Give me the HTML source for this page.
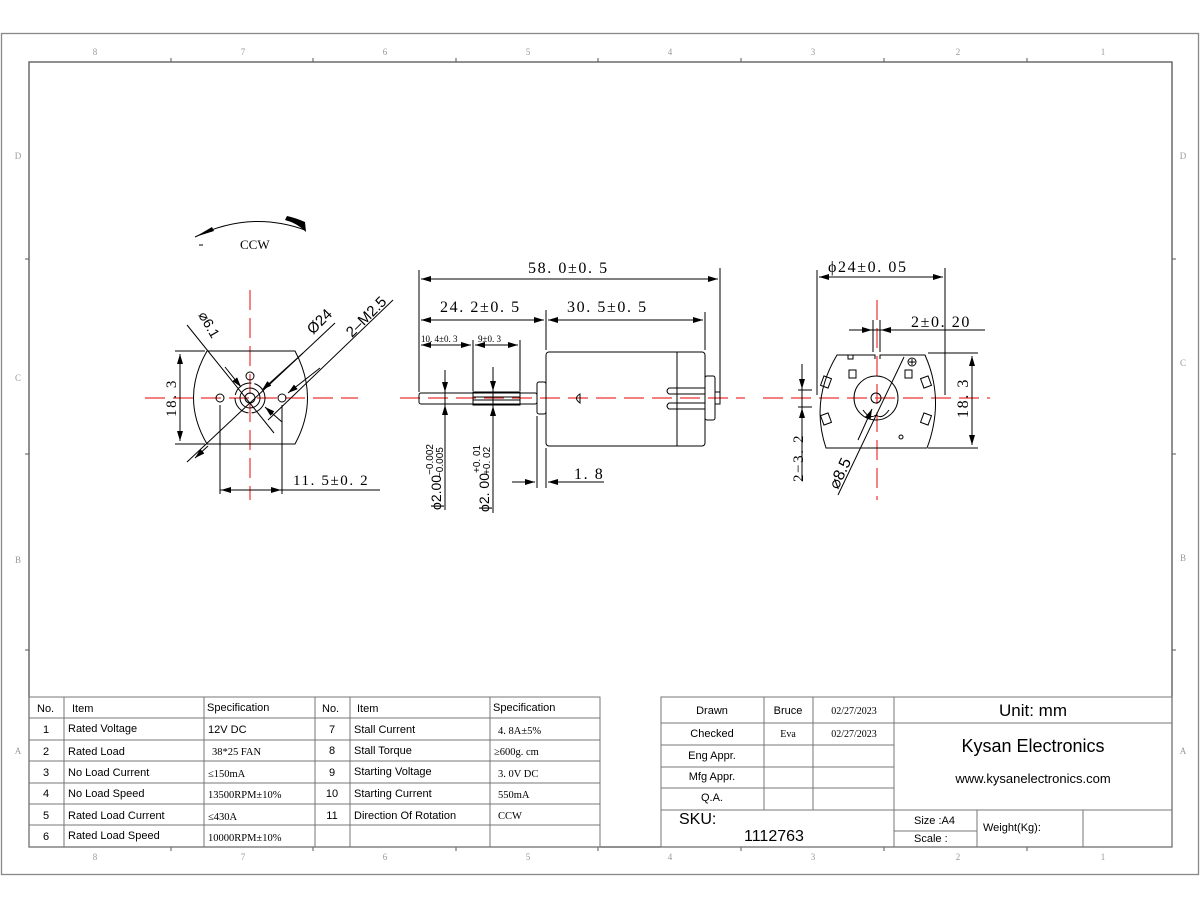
<!DOCTYPE html>
<html><head><meta charset="utf-8"><style>
html,body{margin:0;padding:0;background:#fff;}
svg{display:block;}
.d{font-family:"Liberation Serif",serif;}
.s{font-family:"Liberation Sans",sans-serif;}
.w{letter-spacing:1.6px;}
</style></head><body>
<svg width="1200" height="909" viewBox="0 0 1200 909" xmlns="http://www.w3.org/2000/svg">
<defs>
<marker id="a" viewBox="0 0 10 6" refX="10" refY="3" markerWidth="10" markerHeight="6" orient="auto-start-reverse" markerUnits="userSpaceOnUse"><path d="M0,0 L10,3 L0,6 z" fill="#000"/></marker>
</defs>
<g fill="none" stroke="#888" stroke-width="1.3">
<rect x="1.5" y="33.5" width="1197" height="841"/>
</g>
<g fill="none" stroke="#555" stroke-width="1.3">
<rect x="29" y="62" width="1143" height="785"/>
</g>
<g stroke="#555" stroke-width="1">
<line x1="171" y1="58" x2="171" y2="62"/><line x1="313" y1="58" x2="313" y2="62"/><line x1="456" y1="58" x2="456" y2="62"/><line x1="598" y1="58" x2="598" y2="62"/><line x1="741" y1="58" x2="741" y2="62"/><line x1="884" y1="58" x2="884" y2="62"/><line x1="1027" y1="58" x2="1027" y2="62"/>
<line x1="171" y1="847" x2="171" y2="851"/><line x1="313" y1="847" x2="313" y2="851"/><line x1="456" y1="847" x2="456" y2="851"/><line x1="598" y1="847" x2="598" y2="851"/><line x1="741" y1="847" x2="741" y2="851"/><line x1="884" y1="847" x2="884" y2="851"/><line x1="1027" y1="847" x2="1027" y2="851"/>
<line x1="25" y1="259" x2="29" y2="259"/><line x1="25" y1="454" x2="29" y2="454"/><line x1="25" y1="650" x2="29" y2="650"/>
<line x1="1172" y1="259" x2="1176" y2="259"/><line x1="1172" y1="454" x2="1176" y2="454"/><line x1="1172" y1="650" x2="1176" y2="650"/>
</g>
<g class="d" font-size="9" fill="#999" text-anchor="middle">
<text x="95" y="55">8</text><text x="243" y="55">7</text><text x="385" y="55">6</text><text x="528" y="55">5</text><text x="670" y="55">4</text><text x="813" y="55">3</text><text x="958" y="55">2</text><text x="1103" y="55">1</text>
<text x="95" y="860">8</text><text x="243" y="860">7</text><text x="385" y="860">6</text><text x="528" y="860">5</text><text x="670" y="860">4</text><text x="813" y="860">3</text><text x="958" y="860">2</text><text x="1103" y="860">1</text>
<text x="18" y="159">D</text><text x="18" y="381">C</text><text x="18" y="563">B</text><text x="18" y="754">A</text>
<text x="1183" y="159">D</text><text x="1183" y="366">C</text><text x="1183" y="561">B</text><text x="1183" y="754">A</text>
</g>

<!-- red center lines -->
<g stroke="#e33" stroke-width="1.2" stroke-dasharray="20,8" fill="none">
<line x1="145" y1="398" x2="358" y2="398"/>
<line x1="250" y1="290" x2="250" y2="500"/>
<line x1="400" y1="398" x2="745" y2="398"/>
<line x1="763" y1="398" x2="990" y2="398"/>
<line x1="877" y1="300" x2="877" y2="500"/>
</g>

<!-- CCW arrow -->
<path d="M195,237 Q250,210 305,230" fill="none" stroke="#000" stroke-width="1"/>
<path d="M195,237 L212,227 L214,231 z" fill="#000"/>
<path d="M285,220 Q297,223 306,232 L305,222 Q296,218 287,216 z" fill="#000"/>
<line x1="199" y1="245" x2="203" y2="245" stroke="#000"/>
<text x="240" y="249" class="d" font-size="13">CCW</text>

<!-- left view -->
<g fill="none" stroke="#000" stroke-width="1">
<path d="M207,351 L295,351 Q320,398 295,444 L207,444 Q180,398 207,351 z"/>
<circle cx="250" cy="376" r="4"/>
<circle cx="220" cy="398" r="4"/>
<circle cx="282" cy="398" r="4"/>
<circle cx="250" cy="398" r="15" stroke-dasharray="22,3"/>
<circle cx="250" cy="398" r="10"/>
<circle cx="250" cy="398" r="5"/>
<line x1="187" y1="325" x2="274" y2="433"/>
<line x1="187" y1="462" x2="335" y2="323"/>
<line x1="268" y1="420" x2="393" y2="300"/>
<line x1="175" y1="351" x2="205" y2="351"/><line x1="175" y1="444" x2="205" y2="444"/>
<line x1="220" y1="405" x2="220" y2="494"/><line x1="282" y1="405" x2="282" y2="494"/>
<line x1="220" y1="490" x2="380" y2="490"/>
</g>
<g stroke="#000" stroke-width="1">
<line x1="180" y1="354" x2="180" y2="441" marker-start="url(#a)" marker-end="url(#a)"/>
<line x1="221" y1="490" x2="238" y2="490" marker-start="url(#a)"/>
<line x1="264" y1="490" x2="281" y2="490" marker-end="url(#a)"/>
<line x1="225" y1="367" x2="241" y2="387" marker-end="url(#a)"/>
<line x1="303" y1="353" x2="262" y2="390" marker-end="url(#a)"/>
<line x1="320" y1="368" x2="288" y2="393" marker-end="url(#a)"/>
<line x1="195" y1="458" x2="208" y2="446" marker-start="url(#a)"/>
<line x1="282" y1="422" x2="265" y2="407" marker-end="url(#a)"/>
</g>
<text class="d w" font-size="15" transform="translate(176,398) rotate(-90)" text-anchor="middle">18. 3</text>
<text class="d w" font-size="15" x="293" y="485">11. 5±0. 2</text>
<text class="s" font-size="14" transform="translate(198,315) rotate(60)">⌀6.1</text>
<text class="s" font-size="15" transform="translate(313,335) rotate(-45)">Ø24</text>
<text class="s" font-size="15" transform="translate(352,338) rotate(-45)">2–M2.5</text>

<!-- side view -->
<g fill="none" stroke="#000" stroke-width="1">
<rect x="419" y="393" width="118" height="11" rx="2"/>
<rect x="473" y="392" width="47" height="13"/>
<line x1="473" y1="397" x2="520" y2="397"/><line x1="473" y1="400" x2="520" y2="400"/>
<rect x="537" y="382" width="9" height="32" rx="2"/>
<rect x="546" y="352" width="159" height="94" rx="3"/>
<line x1="677" y1="352" x2="677" y2="446"/>
<rect x="705" y="376" width="10" height="44" rx="2"/>
<rect x="715" y="392" width="5" height="12"/>
<path d="M705,388 L669,388 Q665,391 669,394 L705,394"/>
<path d="M705,403 L669,403 Q665,406 669,409 L705,409"/>
<path d="M580,394 Q573,398 580,403 z"/>
<line x1="419" y1="270" x2="419" y2="392"/>
<line x1="720" y1="268" x2="720" y2="392"/>
<line x1="546" y1="310" x2="546" y2="350"/>
<line x1="705" y1="312" x2="705" y2="350"/>
<line x1="473" y1="340" x2="473" y2="391"/>
<line x1="520" y1="340" x2="520" y2="391"/>
<line x1="537" y1="416" x2="537" y2="488"/>
<line x1="546" y1="448" x2="546" y2="488"/>
<line x1="445" y1="370" x2="445" y2="510"/>
<line x1="493" y1="367" x2="493" y2="513"/>
</g>
<g stroke="#000" stroke-width="1">
<line x1="421" y1="279" x2="718" y2="279" marker-start="url(#a)" marker-end="url(#a)"/>
<line x1="421" y1="320" x2="544" y2="320" marker-start="url(#a)" marker-end="url(#a)"/>
<line x1="548" y1="320" x2="703" y2="320" marker-start="url(#a)" marker-end="url(#a)"/>
<line x1="421" y1="345" x2="471" y2="345" marker-start="url(#a)" marker-end="url(#a)"/>
<line x1="475" y1="345" x2="518" y2="345" marker-start="url(#a)" marker-end="url(#a)"/>
<line x1="445" y1="380" x2="445" y2="392" marker-end="url(#a)"/>
<line x1="445" y1="417" x2="445" y2="405" marker-end="url(#a)"/>
<line x1="493" y1="379" x2="493" y2="391" marker-end="url(#a)"/>
<line x1="493" y1="418" x2="493" y2="406" marker-end="url(#a)"/>
<line x1="512" y1="482" x2="535" y2="482" marker-end="url(#a)"/>
<line x1="566" y1="482" x2="548" y2="482" marker-end="url(#a)"/>
<line x1="548" y1="482" x2="604" y2="482"/>
</g>
<g class="d w" font-size="16">
<text x="528" y="273">58. 0±0. 5</text>
<text x="440" y="312">24. 2±0. 5</text>
<text x="567" y="312">30. 5±0. 5</text>
<text x="574" y="479">1. 8</text>
</g>
<g class="d" font-size="9">
<text x="421" y="342">10. 4±0. 3</text>
<text x="478" y="342">9±0. 3</text>
</g>
<text class="s" font-size="14" transform="translate(441,510) rotate(-90)">ϕ2.00<tspan font-size="10" dy="-8">−0.002</tspan><tspan font-size="10" dx="-34" dy="10">−0.005</tspan></text>
<text class="s" font-size="14" transform="translate(489,512) rotate(-90)">ϕ2. 00<tspan font-size="10" dy="-9">+0. 01</tspan><tspan font-size="10" dx="-30" dy="10">+0. 02</tspan></text>

<!-- right view -->
<g fill="none" stroke="#000" stroke-width="1">
<path d="M841,355 L875,355 L875,359 M880,355 L880,359 L880,355 L925,355 Q945,400 927,448 L826,448 Q810,400 837,355 L848,355 L848,359 L853,359 L853,355" />
<line x1="817" y1="270" x2="817" y2="395"/>
<line x1="945" y1="268" x2="945" y2="395"/>
<line x1="873" y1="320" x2="873" y2="352"/><line x1="880" y1="320" x2="880" y2="352"/>
<line x1="849" y1="330" x2="985" y2="330"/>
<line x1="928" y1="353" x2="978" y2="353"/><line x1="928" y1="448" x2="978" y2="448"/>
<circle cx="876" cy="398" r="22"/>
<circle cx="876" cy="398" r="5"/>
<path d="M863,410 Q870,420 876,415"/><path d="M889,410 Q882,420 876,415"/>
<rect x="849" y="370" width="7" height="8"/>
<rect x="905" y="370" width="7" height="8"/>
<circle cx="912" cy="362" r="4"/>
<line x1="909" y1="362" x2="915" y2="362"/><line x1="912" y1="359" x2="912" y2="365"/>
<circle cx="901" cy="437" r="2"/>
<rect x="822" y="377" width="8" height="10" transform="rotate(20 826 382)"/>
<rect x="922" y="377" width="8" height="10" transform="rotate(-20 926 382)"/>
<rect x="822" y="414" width="8" height="10" transform="rotate(-20 826 419)"/>
<rect x="922" y="414" width="8" height="10" transform="rotate(20 926 419)"/>
<line x1="802" y1="364" x2="802" y2="480"/>
<line x1="798" y1="390" x2="812" y2="390"/><line x1="798" y1="407" x2="812" y2="407"/>
<line x1="838" y1="495" x2="904" y2="357"/>
</g>
<g stroke="#000" stroke-width="1">
<line x1="819" y1="277" x2="943" y2="277" marker-start="url(#a)" marker-end="url(#a)"/>
<line x1="852" y1="330" x2="872" y2="330" marker-end="url(#a)"/>
<line x1="900" y1="330" x2="881" y2="330" marker-end="url(#a)"/>
<line x1="972" y1="356" x2="972" y2="445" marker-start="url(#a)" marker-end="url(#a)"/>
<line x1="802" y1="374" x2="802" y2="389" marker-end="url(#a)"/>
<line x1="802" y1="422" x2="802" y2="408" marker-end="url(#a)"/>
<line x1="872" y1="409" x2="858" y2="440" marker-start="url(#a)"/>
</g>
<text class="d w" font-size="16" x="828" y="272">ϕ24±0. 05</text>
<text class="d w" font-size="16" x="911" y="327">2±0. 20</text>
<text class="d w" font-size="16" transform="translate(968,398) rotate(-90)" text-anchor="middle">18. 3</text>
<text class="d w" font-size="15" transform="translate(803,482) rotate(-90)">2−3. 2</text>
<text class="s" font-size="16" transform="translate(838,490) rotate(-65)">⌀8.5</text>

<!-- spec table -->
<g stroke="#777" stroke-width="1" fill="none">
<rect x="29" y="697" width="571" height="150"/>
<line x1="29" y1="718" x2="600" y2="718"/><line x1="29" y1="740" x2="600" y2="740"/><line x1="29" y1="761" x2="600" y2="761"/><line x1="29" y1="783" x2="600" y2="783"/><line x1="29" y1="804" x2="600" y2="804"/><line x1="29" y1="825" x2="600" y2="825"/>
<line x1="64" y1="697" x2="64" y2="847"/><line x1="204" y1="697" x2="204" y2="847"/><line x1="315" y1="697" x2="315" y2="847"/><line x1="350" y1="697" x2="350" y2="847"/><line x1="490" y1="697" x2="490" y2="847"/>
</g>
<g class="s" font-size="11" fill="#000">
<text x="37" y="712">No.</text><text x="72" y="712">Item</text><text x="207" y="711">Specification</text>
<text x="322" y="712">No.</text><text x="357" y="712">Item</text><text x="493" y="711">Specification</text>
<g text-anchor="middle"><text x="46" y="733">1</text><text x="46" y="755">2</text><text x="46" y="776">3</text><text x="46" y="797">4</text><text x="46" y="819">5</text><text x="46" y="840">6</text>
<text x="332" y="733">7</text><text x="332" y="754">8</text><text x="332" y="776">9</text><text x="332" y="797">10</text><text x="332" y="819">11</text></g>
<text x="68" y="732">Rated Voltage</text><text x="68" y="755">Rated Load</text><text x="68" y="776">No Load Current</text><text x="68" y="797">No Load Speed</text><text x="68" y="819">Rated Load Current</text><text x="68" y="839">Rated Load Speed</text>
<text x="208" y="733">12V DC</text>
<text x="354" y="733">Stall Current</text><text x="354" y="754">Stall Torque</text><text x="354" y="775">Starting Voltage</text><text x="354" y="797">Starting Current</text><text x="354" y="819">Direction Of Rotation</text>
</g>
<g class="d" font-size="10.5" fill="#000">
<text x="212" y="755">38*25 FAN</text><text x="208" y="777">≤150mA</text><text x="208" y="798">13500RPM±10%</text><text x="208" y="820">≤430A</text><text x="208" y="841">10000RPM±10%</text>
<text x="498" y="734">4. 8A±5%</text><text x="494" y="755">≥600g. cm</text><text x="498" y="777">3. 0V DC</text><text x="498" y="798">550mA</text><text x="498" y="819">CCW</text>
</g>

<!-- title block -->
<g stroke="#777" stroke-width="1" fill="none">
<rect x="661" y="697" width="511" height="150"/>
<line x1="661" y1="723" x2="1172" y2="723"/>
<line x1="661" y1="745" x2="894" y2="745"/><line x1="661" y1="767" x2="894" y2="767"/><line x1="661" y1="788" x2="894" y2="788"/>
<line x1="661" y1="810" x2="1172" y2="810"/>
<line x1="764" y1="697" x2="764" y2="810"/><line x1="813" y1="697" x2="813" y2="810"/><line x1="894" y1="697" x2="894" y2="847"/>
<line x1="894" y1="831" x2="977" y2="831"/><line x1="977" y1="810" x2="977" y2="847"/><line x1="1083" y1="810" x2="1083" y2="847"/>
</g>
<g class="s" font-size="11" fill="#000" text-anchor="middle">
<text x="712" y="714">Drawn</text><text x="712" y="737">Checked</text><text x="712" y="759">Eng Appr.</text><text x="712" y="780">Mfg Appr.</text><text x="712" y="801">Q.A.</text>
<text x="788" y="714">Bruce</text>
</g>
<g class="d" font-size="10" fill="#000" text-anchor="middle">
<text x="788" y="737">Eva</text><text x="854" y="714">02/27/2023</text><text x="854" y="737">02/27/2023</text>
</g>
<g class="s" fill="#000">
<text x="1033" y="716" font-size="17" text-anchor="middle">Unit: mm</text>
<text x="1033" y="752" font-size="18" text-anchor="middle">Kysan Electronics</text>
<text x="1033" y="783" font-size="13" text-anchor="middle">www.kysanelectronics.com</text>
<text x="679" y="824" font-size="16">SKU:</text>
<text x="744" y="841" font-size="16">1112763</text>
<text x="914" y="824" font-size="11">Size :A4</text>
<text x="914" y="842" font-size="11">Scale :</text>
<text x="983" y="831" font-size="11">Weight(Kg):</text>
</g>
</svg>
</body></html>
